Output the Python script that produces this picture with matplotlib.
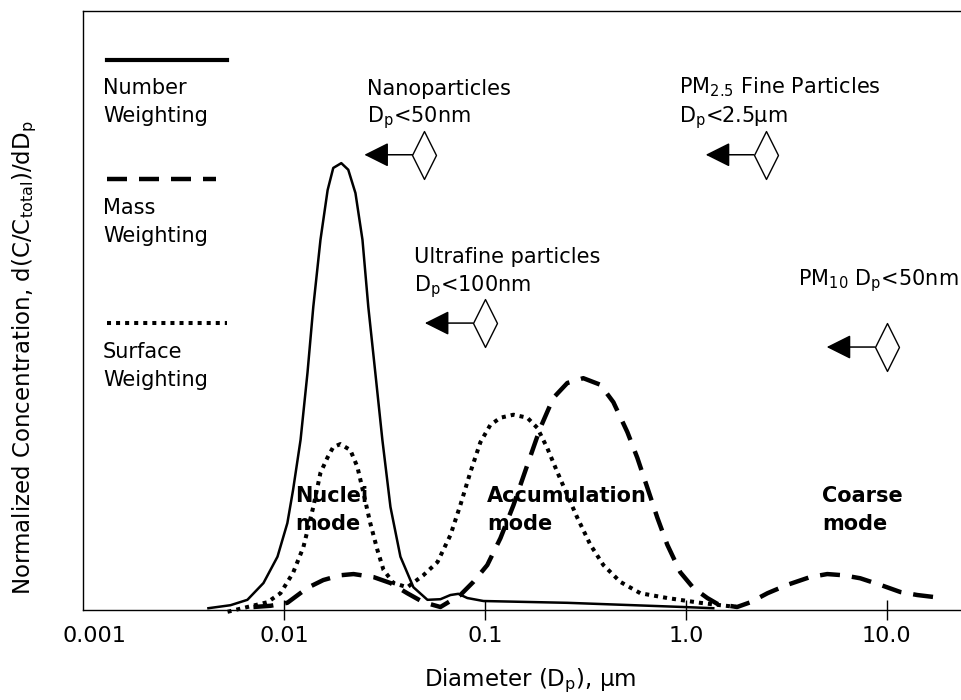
import numpy as np
import matplotlib.pyplot as plt
from matplotlib.path import Path
from matplotlib.ticker import NullLocator
from matplotlib.transforms import ScaledTranslation

# Number weighted distribution (solid)
num_dp = [0.00421, 0.00542, 0.00658, 0.00791, 0.00929, 0.0104, 0.0111, 0.0121,
          0.0131, 0.0140, 0.0152, 0.0165, 0.0176, 0.0193, 0.0209, 0.0227, 0.0246,
          0.0263, 0.0285, 0.0309, 0.0339, 0.0380, 0.0441, 0.0518, 0.0601, 0.0674,
          0.0738, 0.0818, 0.0984, 0.257, 0.973, 1.37]
num_c = [0.3, 0.8, 1.7, 4.5, 8.9, 14.5, 20.0, 28.4, 39.6, 50.6, 61.8, 70.1, 73.8,
         74.6, 73.5, 69.6, 61.8, 50.6, 39.6, 28.4, 17.2, 8.9, 3.8, 1.7, 1.8, 2.5,
         2.7, 2.0, 1.5, 1.2, 0.5, 0.3]

# Mass weighted distribution (dashed)
mass_dp = [0.00705, 0.00857, 0.0104, 0.0131, 0.0157, 0.0191, 0.0222, 0.0279,
           0.0339, 0.0411, 0.0494, 0.0601, 0.0755, 0.0877, 0.1028, 0.1196, 0.1388,
           0.1627, 0.1888, 0.2191, 0.2573, 0.309, 0.376, 0.436, 0.512, 0.574,
           0.644, 0.722, 0.809, 0.939, 1.09, 1.28, 1.44, 1.80, 2.10, 2.55, 3.20,
           4.16, 5.06, 6.08, 7.38, 9.29, 11.7, 14.2, 18.9]
mass_c = [0.5, 0.7, 1.2, 3.7, 5.0, 5.8, 6.0, 5.5, 4.5, 2.8, 1.3, 0.5, 2.5, 4.7,
          7.5, 12.0, 17.5, 24.2, 30.4, 35.4, 37.9, 38.7, 37.6, 34.7, 29.7, 25.4,
          20.4, 15.4, 10.9, 6.3, 3.7, 2.0, 1.0, 0.5, 1.3, 2.8, 4.2, 5.5, 6.0, 5.8,
          5.3, 4.2, 3.0, 2.5, 2.0]

# Surface weighted distribution (dotted)
surf_dp = [0.00524, 0.00658, 0.00828, 0.00961, 0.0111, 0.0125, 0.0140, 0.0152,
           0.0165, 0.0176, 0.0191, 0.0214, 0.0232, 0.0249, 0.0269, 0.0292, 0.0313,
           0.0351, 0.0411, 0.0494, 0.0581, 0.0674, 0.0755, 0.0847, 0.0950, 0.1065,
           0.1196, 0.1388, 0.1627, 0.1825, 0.2047, 0.2296, 0.2573, 0.2886, 0.335,
           0.389, 0.472, 0.594, 0.809, 1.18, 1.49, 1.80]
surf_c = [-0.3, 0.5, 1.3, 2.8, 6.2, 10.5, 17.2, 22.9, 25.5, 27.2, 27.7, 26.7, 23.9,
          19.5, 14.5, 10.0, 6.7, 4.5, 3.8, 5.8, 8.0, 12.5, 17.5, 23.0, 28.0, 30.9,
          32.1, 32.6, 32.1, 30.4, 27.0, 23.0, 19.2, 15.4, 10.9, 7.5, 4.7, 2.8, 2.0,
          1.2, 0.8, 0.5]

tick_vals = [0.001, 0.01, 0.1, 1.0, 10.0]
tick_labels = ['0.001', '0.01', '0.1', '1.0', '10.0']

# size classes: cut-off diameter and height of the arrow marker
cut_names = ['Nanoparticles\nD$_\\mathregular{p}$<50nm',
             'Ultrafine particles\nD$_\\mathregular{p}$<100nm',
             'PM$_\\mathregular{2.5}$ Fine Particles\nD$_\\mathregular{p}$<2.5µm',
             'PM$_\\mathregular{10}$ D$_\\mathregular{p}$<50nm']
cut_dp = [0.05, 0.1, 2.5, 10.0]
cut_level = [76.0, 47.9, 76.0, 43.9]
# (x, y of the last text line's baseline) in axes fraction
cut_text_pos = [(0.3231, 0.8147), (0.3766, 0.5326), (0.678, 0.8147), (0.8134, 0.5426)]

mode_names = ['Nuclei\nmode', 'Accumulation\nmode', 'Coarse\nmode']
mode_text_x = [0.2412, 0.4596, 0.8407]

dash_style = (0, (4.5, 2.7))
dot_style = (0, (1.0, 1.25))

fig = plt.figure(figsize=(9.62, 7.0), dpi=100)
ax = fig.add_axes([83 / 962, 90 / 700, 879 / 962, 599 / 700])

ax.plot(num_dp, num_c, color='black', lw=1.8, solid_joinstyle='round', clip_on=False)
ax.plot(mass_dp, mass_c, color='black', lw=3.2, linestyle=dash_style, clip_on=False)
ax.plot(surf_dp, surf_c, color='black', lw=2.9, linestyle=dot_style, clip_on=False)

ax.set_xscale('log')
ax.set_xlim(0.001, 23.7)
ax.set_ylim(0, 100)
ax.set_xticks(tick_vals, tick_labels)
ax.xaxis.set_minor_locator(NullLocator())
ax.set_yticks([])
ax.tick_params(axis='x', direction='inout', length=15, width=1.0, labelsize=16, pad=4)
for side in ['left', 'top', 'bottom']:
    ax.spines[side].set_linewidth(1.0)
ax.spines['right'].set_visible(False)

# no tick mark in the corner; its label sits a little to the right
ax.xaxis.get_major_ticks()[0].tick1line.set_visible(False)
first = ax.get_xticklabels()[0]
first.set_transform(first.get_transform() + ScaledTranslation(0.11, 0, fig.dpi_scale_trans))

ax.set_xlabel('Diameter (D$_\\mathregular{p}$), µm', fontsize=16.5)
ax.xaxis.set_label_coords(0.5085, -0.095)
ax.set_ylabel('Normalized Concentration, d(C/C$_\\mathregular{total}$)/dD$_\\mathregular{p}$',
              fontsize=16.5)
ax.yaxis.set_label_coords(-0.05, 0.421)

# hand-made key in the upper left
key_y = [0.918, 0.7195, 0.479]
key_end = [0.1638, 0.1513, 0.1638]
key_styles = [dict(lw=3.0, linestyle='-'),
              dict(lw=3.2, linestyle=dash_style),
              dict(lw=2.9, linestyle=dot_style)]
key_text = ['Number\nWeighting', 'Mass\nWeighting', 'Surface\nWeighting']
key_text_y = [0.8147, 0.6144, 0.374]
for y, xe, st, t, ty in zip(key_y, key_end, key_styles, key_text, key_text_y):
    ax.plot([0.0273, xe], [y, y], color='black', transform=ax.transAxes, **st)
    ax.text(0.0228, ty, t, transform=ax.transAxes, fontsize=15, va='baseline', ha='left',
            linespacing=1.5)

# diamond + arrow pointing to smaller sizes
diamond = Path([(0, 1), (0.5, 0), (0, -1), (-0.5, 0), (0, 1)],
               [Path.MOVETO, Path.LINETO, Path.LINETO, Path.LINETO, Path.CLOSEPOLY])
tip_shift = ScaledTranslation(-0.60, 0, fig.dpi_scale_trans)
tail_shift = ScaledTranslation(-0.12, 0, fig.dpi_scale_trans)
for name, d, lv, (tx, ty) in zip(cut_names, cut_dp, cut_level, cut_text_pos):
    ax.plot([d], [lv], marker=diamond, markersize=34.5, markerfacecolor='white',
            markeredgecolor='black', markeredgewidth=1.0, clip_on=False)
    ax.annotate('', xy=(d, lv), xycoords=ax.transData + tip_shift,
                xytext=(d, lv), textcoords=ax.transData + tail_shift,
                arrowprops=dict(arrowstyle='-|>', mutation_scale=38, lw=1.1,
                                color='black', shrinkA=0, shrinkB=0))
    ax.text(tx, ty, name, transform=ax.transAxes, fontsize=15, va='baseline', ha='left',
            linespacing=1.29)

for name, x in zip(mode_names, mode_text_x):
    ax.text(x, 0.1336, name, transform=ax.transAxes, fontsize=15, fontweight='bold',
            va='baseline', ha='left', zorder=5, linespacing=1.5)

fig.savefig('out.png', dpi=100)
